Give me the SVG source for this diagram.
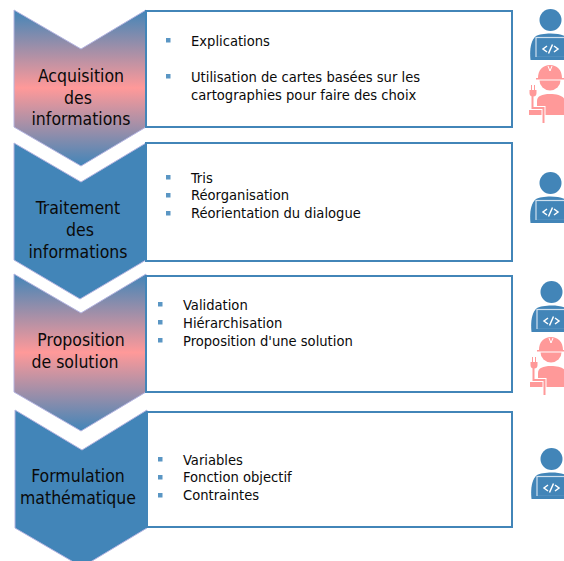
<svg xmlns="http://www.w3.org/2000/svg" xmlns:xlink="http://www.w3.org/1999/xlink" width="564" height="561" viewBox="0 0 564 561">
<style>
text{font-family:"DejaVu Sans","Liberation Sans",sans-serif;font-stretch:condensed;fill:#0a0a0a}
.h{font-size:17.5px;text-anchor:middle}
.b{font-size:14.6px}
.box{fill:#fff;stroke:#4285b8;stroke-width:2}
.ch{stroke:#b4b4e0;stroke-width:1}
.blue{fill:#4285b8}
.bul{fill:#5a96c4}
</style>
<defs>
<linearGradient id="g" x1="0" y1="0" x2="0" y2="1">
<stop offset="0" stop-color="#4285b8"/><stop offset="0.5" stop-color="#ff9999"/><stop offset="1" stop-color="#4285b8"/>
</linearGradient>
<g id="dev" fill="#4285b8">
<circle cx="20.500" cy="11" r="11"/>
<path d="M0.500 51C-0.500 41 0.500 32 6 27C11 24 30 23 36 28V51Z"/>
<rect x="6" y="28.500" width="32" height="20" fill="#4285b8" stroke="#cfe0ee" stroke-width="1.200"/>
<rect x="3" y="48" width="34" height="3"/>
<path d="M17 37l-4 3 4 3M24 37l4 3-4 3M22.500 35.500l-4 9" fill="none" stroke="#fff" stroke-width="1.500"/>
</g>
<g id="eng" fill="#ff9999">
<path d="M33 18C33 10 28 5 21 5C14 5 9 10 9 18H7V19.500H35V18Z"/>
<path d="M10.500 20.500H31.500A10.500 10 0 0 1 10.500 20.500Z"/>
<path d="M8 55V41C8 36 13 34 21 34C29 34 36 36 36 42V55Z"/>
<rect x="0" y="50" width="10" height="5"/>
<path d="M19 6l2 5 2-5" fill="none" stroke="#fff" stroke-width="1"/>
<path d="M3.500 36V48H14.500V63" fill="none" stroke="#fff" stroke-width="4"/>
<path d="M3.500 36V48H14.500V63" fill="none" stroke="#ff9999" stroke-width="2"/>
<path d="M0.500 30H7.500V33A3.500 3.500 0 0 1 0.500 33Z"/>
<path d="M2 25h1v5h-1zM5 25h1v5h-1z"/>
</g>
</defs>

<g id="connectors"></g>

<g id="step1"><path class="ch" fill="url(#g)" d="M14 10L81 49L146 10V127L81 166L14 127Z"/>
<text class="h" x="81" y="82">Acquisition</text><text class="h" x="78" y="104">des</text><text class="h" x="81" y="125">informations</text></g>
<g id="box1"><rect class="box" x="146" y="11" width="366" height="116"/>
<rect class="bul" x="166" y="38" width="4.500" height="4.500"/><text class="b" x="191" y="46">Explications</text>
<rect class="bul" x="166" y="74" width="4.500" height="4.500"/><text class="b" x="191" y="82">Utilisation de cartes basées sur les</text><text class="b" x="191" y="100">cartographies pour faire des choix</text></g>

<g id="step2"><path class="ch blue" d="M14 143L81 182L146 143V260L80 299L14 260Z"/>
<text class="h" x="78" y="214">Traitement</text><text class="h" x="80" y="236">des</text><text class="h" x="78" y="258">informations</text></g>
<g id="box2"><rect class="box" x="146" y="143" width="366" height="118"/>
<rect class="bul" x="166" y="175" width="4.500" height="4.500"/><text class="b" x="191" y="183">Tris</text>
<rect class="bul" x="166" y="193" width="4.500" height="4.500"/><text class="b" x="191" y="200">Réorganisation</text>
<rect class="bul" x="166" y="211" width="4.500" height="4.500"/><text class="b" x="191" y="218">Réorientation du dialogue</text></g>

<g id="step3"><path class="ch" fill="url(#g)" d="M14 274L81 313L146 274V392L81 431L14 392Z"/>
<text class="h" x="81" y="346">Proposition</text><text class="h" x="75" y="368">de solution</text></g>
<g id="box3"><rect class="box" x="146" y="276" width="366" height="116"/>
<rect class="bul" x="158" y="302" width="4.500" height="4.500"/><text class="b" x="183" y="310">Validation</text>
<rect class="bul" x="158" y="320" width="4.500" height="4.500"/><text class="b" x="183" y="328">Hiérarchisation</text>
<rect class="bul" x="158" y="338" width="4.500" height="4.500"/><text class="b" x="183" y="346">Proposition d'une solution</text></g>

<g id="step4"><path class="ch blue" d="M15 410L82 450L147 410V528L82 567L15 528Z"/>
<text class="h" x="78" y="482">Formulation</text><text class="h" x="78" y="504">mathématique</text></g>
<g id="box4"><rect class="box" x="147" y="412" width="365" height="115"/>
<rect class="bul" x="158" y="457" width="4.500" height="4.500"/><text class="b" x="183" y="465">Variables</text>
<rect class="bul" x="158" y="475" width="4.500" height="4.500"/><text class="b" x="183" y="482">Fonction objectif</text>
<rect class="bul" x="158" y="493" width="4.500" height="4.500"/><text class="b" x="183" y="500">Contraintes</text></g>

<g id="icons">
<use xlink:href="#dev" href="#dev" x="530" y="9"/>
<use xlink:href="#eng" href="#eng" x="529" y="60"/>
<use xlink:href="#dev" href="#dev" x="530" y="172"/>
<use xlink:href="#dev" href="#dev" x="531" y="281"/>
<use xlink:href="#eng" href="#eng" x="530" y="332"/>
<use xlink:href="#dev" href="#dev" x="531" y="448"/>
</g>
</svg>
